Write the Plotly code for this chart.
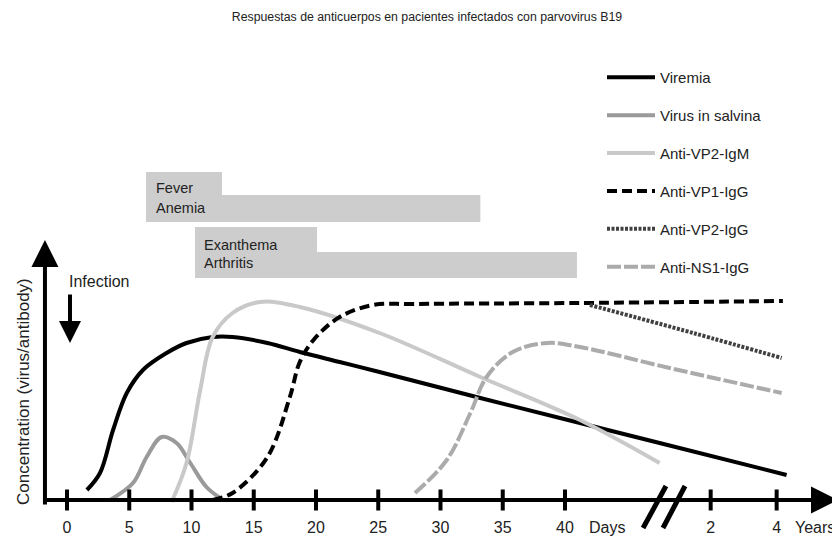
import plotly.graph_objects as go

# ---------------- data (x in day-position units, y in arbitrary concentration) ----------------
viremia_x = [1.6, 2.65, 3.7, 4.8, 6.1, 8.0, 9.6, 11.7, 13.3, 16.1, 18.7, 21.9, 25.1, 33.2, 41.2, 47.6, 57.8]
viremia_y = [5, 13.5, 35, 53.5, 65, 73.5, 78.5, 81.5, 81.5, 78.5, 74, 69, 64, 51, 38.5, 28.5, 12.5]

saliva_x = [3.45, 5.3, 6.4, 7.6, 8.8, 9.9, 11.2, 12.3]
saliva_y = [0, 8.5, 21.5, 31.5, 28.5, 18.5, 6.5, 1]

igm_vp2_x = [8.4, 9.6, 10.7, 11.7, 13.3, 15.5, 18.7, 25.1, 33.2, 41.2, 47.6]
igm_vp2_y = [-1, 18.5, 55, 81.5, 93.5, 99, 96.5, 83.5, 61.5, 40, 18.5]

igg_vp1_x = [11.7, 13.3, 16.1, 17.9, 18.7, 19.8, 21.9, 24.6, 27.8, 41.2, 57.5]
igg_vp1_y = [0, 3.5, 21.5, 51.5, 69, 80, 91.5, 97.5, 98, 98.5, 99.5]

igg_vp2_x = [42.0, 50.3, 57.4]
igg_vp2_y = [97.5, 83.5, 71]

igg_ns1_x = [27.95, 30.5, 32.4, 33.7, 35.8, 38.6, 41.2, 48.4, 57.4]
igg_ns1_y = [3.5, 20, 43.5, 61.5, 74, 78.5, 76.5, 66, 53.5]

day_ticks = [0, 5, 10, 15, 20, 25, 30, 35, 40]
year_labels = ["2", "4"]
year_pos = [51.7, 57.0]

# symptom blocks: label lines, start, end of first (tall) part, end of long part
symptom_top = ["Fever", "Exanthema"]
symptom_bottom = ["Anemia", "Arthritis"]
symptom_start = [6.35, 10.28]
symptom_step = [12.45, 20.08]
symptom_end = [33.2, 40.96]
symptom_y0 = [139, 111]
symptom_ymid = [152.5, 124]
symptom_y1 = [164, 136.5]
symptom_top_label_y = [156, 127.5]
symptom_bottom_label_y = [146, 118.5]

title_text = "Respuestas de anticuerpos en pacientes infectados con parvovirus B19"

FONT = "Liberation Sans, Arial, sans-serif"
TXT = "#222222"

# page offset (browser body margin) and figure size
OFF = 8
W, H = 840 - OFF, 540 - OFF


def xp(px):  # page pixel -> paper x
    return (px - OFF) / W


def yp(py):  # page pixel -> paper y
    return 1 - (py - OFF) / H


fig = go.Figure()

series = [
    ("Viremia", viremia_x, viremia_y, "#000000", "solid", 4),
    ("Virus in salvina", saliva_x, saliva_y, "#9a9a9a", "solid", 4),
    ("Anti-VP2-IgM", igm_vp2_x, igm_vp2_y, "#c9c9c9", "solid", 4),
    ("Anti-VP1-IgG", igg_vp1_x, igg_vp1_y, "#000000", "10px,5px", 4),
    ("Anti-VP2-IgG", igg_vp2_x, igg_vp2_y, "#404040", "3px,1.5px", 4),
    ("Anti-NS1-IgG", igg_ns1_x, igg_ns1_y, "#ababab", "14px,3px", 4),
]
for i, (name, xs, ys, col, dash, w) in enumerate(series):
    fig.add_trace(go.Scatter(
        x=xs, y=ys, mode="lines", name=name,
        line=dict(color=col, dash=dash, width=w, shape="spline", smoothing=1.0),
        legendgroup=f"g{i}", cliponaxis=False,
    ))

# tick marks crossing the x axis
tick_positions = day_ticks + year_pos
fig.add_trace(go.Scatter(
    x=tick_positions, y=[0] * len(tick_positions), mode="markers", showlegend=False,
    marker=dict(symbol="line-ns", size=15, line=dict(width=4, color="black")),
    hoverinfo="skip",
))

# symptom boxes
for i in range(len(symptom_top)):
    fig.add_shape(type="rect", x0=symptom_start[i], x1=symptom_step[i],
                  y0=symptom_y0[i], y1=symptom_y1[i],
                  fillcolor="#cdcdcd", line=dict(width=0), layer="below")
    fig.add_shape(type="rect", x0=symptom_step[i], x1=symptom_end[i],
                  y0=symptom_y0[i], y1=symptom_ymid[i],
                  fillcolor="#cdcdcd", line=dict(width=0), layer="below")
    fig.add_annotation(x=symptom_start[i] + 0.6, y=symptom_top_label_y[i],
                       text=symptom_top[i], showarrow=False, xanchor="left", yanchor="middle",
                       font=dict(family=FONT, size=14.5, color=TXT))
    fig.add_annotation(x=symptom_start[i] + 0.6, y=symptom_bottom_label_y[i],
                       text=symptom_bottom[i], showarrow=False, xanchor="left", yanchor="middle",
                       font=dict(family=FONT, size=14.5, color=TXT))

# axes drawn as arrows
AX0 = -1.77
fig.add_annotation(x=61.93, y=0, ax=AX0, ay=0, axref="x", ayref="y", text="",
                   showarrow=True, arrowhead=2, arrowwidth=4, arrowsize=1.35, arrowcolor="black")
fig.add_annotation(x=AX0, y=130, ax=AX0, ay=-3, axref="x", ayref="y", text="",
                   showarrow=True, arrowhead=2, arrowwidth=4, arrowsize=1.35, arrowcolor="black")

# infection arrow
fig.add_annotation(x=0.24, y=78.5, ax=0.24, ay=103.5, axref="x", ayref="y", text="",
                   showarrow=True, arrowhead=2, arrowwidth=4, arrowsize=1.1, arrowcolor="black")
fig.add_annotation(x=0, y=109.5, text="Infection", showarrow=False, xanchor="left", yanchor="middle",
                   font=dict(family=FONT, size=16, color=TXT))

# axis break marks
for x0, x1 in [(46.27, 48.11), (47.87, 49.64)]:
    fig.add_shape(type="line", x0=x0, x1=x1, y0=-14, y1=7, line=dict(color="black", width=5))

# Days / Years labels
fig.add_annotation(x=43.4, y=-13.5, text="Days", showarrow=False, yanchor="middle",
                   font=dict(family=FONT, size=16, color=TXT))
fig.add_annotation(x=60.1, y=-13.5, text="Years", showarrow=False, yanchor="middle",
                   font=dict(family=FONT, size=16, color=TXT))

# y-axis title
fig.add_annotation(xref="paper", yref="paper", x=xp(23), y=yp(392),
                   xanchor="center", yanchor="middle",
                   text="Concentration (virus/antibody)", textangle=-90, showarrow=False,
                   font=dict(family=FONT, size=17, color=TXT))

fig.update_layout(
    width=W, height=H,
    margin=dict(l=0, r=0, t=0, b=0),
    paper_bgcolor="white", plot_bgcolor="white",
    title=dict(text=title_text, x=xp(427), xanchor="center", y=yp(17), yanchor="middle",
               yref="container", font=dict(family=FONT, size=12.3, color=TXT)),
    xaxis=dict(range=[(OFF - 67) / 12.45, (840 - 67) / 12.45], showgrid=False, zeroline=False,
               showline=False, anchor="free", position=yp(500),
               tickmode="array", tickvals=day_ticks + year_pos,
               ticktext=[str(d) for d in day_ticks] + year_labels,
               ticks="outside", ticklen=13, tickcolor="rgba(0,0,0,0)",
               tickfont=dict(family=FONT, size=16, color=TXT), automargin=False),
    yaxis=dict(range=[(500 - 540) / 2, (500 - OFF) / 2], showgrid=False, zeroline=False,
               showline=False, showticklabels=False, ticks="", automargin=False),
    showlegend=True,
    legend=dict(x=xp(602), y=yp(61), xanchor="left", yanchor="top",
                bgcolor="rgba(0,0,0,0)", itemwidth=48, tracegroupgap=15.4,
                font=dict(family=FONT, size=15, color=TXT)),
)

fig.write_html("out.html")
